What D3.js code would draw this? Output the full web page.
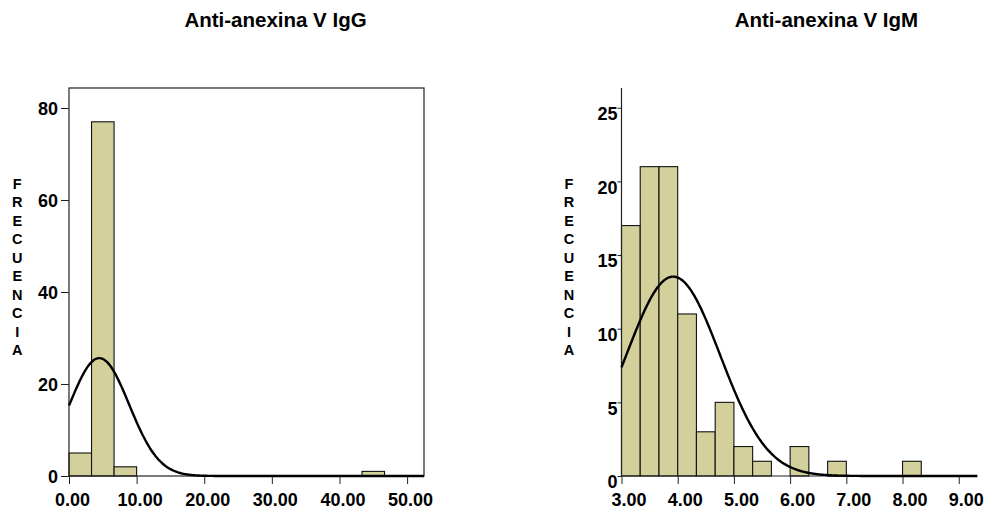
<!DOCTYPE html>
<html><head><meta charset="utf-8">
<script src="https://cdn.jsdelivr.net/npm/d3@7"></script>
<style>
body{margin:0;background:#fff;}
text{font-family:"Liberation Sans",Arial,sans-serif;font-weight:bold;fill:#000;}
</style></head>
<body><svg id="c" width="988" height="511"></svg>
<script>
// ---- data ----
const titles = ["Anti-anexina V IgG", "Anti-anexina V IgM"];
const yLabel = "FRECUENCIA";

const iggBinLow  = [0, 3.333, 6.667, 43.333];
const iggBinHigh = [3.333, 6.667, 10, 46.667];
const iggCounts  = [5, 77, 2, 1];
const iggXTicks  = [0, 10, 20, 30, 40, 50];
const iggYTicks  = [0, 20, 40, 60, 80];
const iggN = 85, iggMean = 4.48, iggSD = 4.41, iggBinWidth = 10/3;

const igmBinLow  = [3.000, 3.333, 3.667, 4.000, 4.333, 4.667, 5.000, 5.333, 6.000, 6.667, 8.000];
const igmBinHigh = [3.333, 3.667, 4.000, 4.333, 4.667, 5.000, 5.333, 5.667, 6.333, 7.000, 8.333];
const igmCounts  = [17, 21, 21, 11, 3, 5, 2, 1, 2, 1, 1];
const igmXTicks  = [3, 4, 5, 6, 7, 8, 9];
const igmYTicks  = [0, 5, 10, 15, 20, 25];
const igmN = 85, igmMean = 3.92, igmSD = 0.835, igmBinWidth = 1/3;

const svg = d3.select("#c");
const fill = "#d4d09b";

function normalCurve(x, n, mean, sd, bw) {
  return d3.range(x.domain()[0], x.domain()[1] + 1e-9, (x.domain()[1]-x.domain()[0])/300)
    .map(v => [v, n*bw/(sd*Math.sqrt(2*Math.PI))*Math.exp(-((v-mean)**2)/(2*sd*sd))]);
}

function drawChart(cfg) {
  const g = svg.append("g");
  const x = d3.scaleLinear().domain(cfg.xDom).range([cfg.left, cfg.right]);
  const y = d3.scaleLinear().domain(cfg.yDom).range([476, 88]);

  // title
  g.append("text").attr("x", cfg.titleX).attr("y", 26.5).attr("text-anchor", "middle")
    .style("font-size", "20.5px").text(cfg.title);

  // y label stacked letters
  g.append("g").selectAll("text").data(yLabel.split("")).join("text")
    .attr("x", cfg.labelX).attr("y", (d, i) => 188.5 + i*18.5)
    .attr("text-anchor", "middle").style("font-size", "14.5px").text(d => d);

  // bars
  g.append("g").selectAll("rect").data(cfg.counts).join("rect")
    .attr("x", (d, i) => x(cfg.low[i]))
    .attr("width", (d, i) => x(cfg.high[i]) - x(cfg.low[i]))
    .attr("y", d => y(d)).attr("height", d => y(0) - y(d))
    .attr("fill", fill).attr("stroke", "#111").attr("stroke-width", 1.1);

  // frame / axis lines
  if (cfg.frame) {
    g.append("rect").attr("x", cfg.left).attr("y", 88)
      .attr("width", cfg.right - cfg.left).attr("height", 476 - 88)
      .attr("fill", "none").attr("stroke", "#222").attr("stroke-width", 1.2);
  } else {
    g.append("line").attr("x1", cfg.left).attr("x2", cfg.left).attr("y1", 88).attr("y2", 476)
      .attr("stroke", "#222").attr("stroke-width", 1.2);
    g.append("line").attr("x1", cfg.left).attr("x2", cfg.right).attr("y1", 476).attr("y2", 476)
      .attr("stroke", "#222").attr("stroke-width", 1.2);
  }

  // axes
  const ya = g.append("g").attr("transform", `translate(${cfg.left},0)`)
    .call(d3.axisLeft(y).tickValues(cfg.yTicks).tickFormat(d3.format("d"))
      .tickSize(cfg.yTickSize).tickPadding(cfg.yPad));
  ya.select(".domain").remove();
  ya.selectAll("line").attr("stroke", "#222");
  ya.selectAll("text").style("font-size", "18px").attr("dy", cfg.yDy).attr("fill", "#000");

  const xa = g.append("g").attr("transform", "translate(0,476)")
    .call(d3.axisBottom(x).tickValues(cfg.xTicks).tickFormat(d3.format(".2f"))
      .tickSize(8).tickPadding(9));
  xa.select(".domain").remove();
  xa.selectAll("line").attr("stroke", "#222");
  xa.selectAll("text").style("font-size", "18px").attr("dx", cfg.xDx).attr("fill", "#000");

  // normal curve
  const pts = normalCurve(x, cfg.n, cfg.mean, cfg.sd, cfg.bw);
  g.append("path").datum(pts)
    .attr("d", d3.line().x(d => x(d[0])).y(d => y(d[1])).curve(d3.curveBasis))
    .attr("fill", "none").attr("stroke", "#000").attr("stroke-width", 2.4);
}

drawChart({
  title: titles[0], titleX: 275.5, labelX: 17.3,
  xDom: [0, 52.5], left: 69, right: 424, yDom: [0, 84.35],
  low: iggBinLow, high: iggBinHigh, counts: iggCounts,
  xTicks: iggXTicks, yTicks: iggYTicks, frame: true,
  yTickSize: 8, yPad: 3, yDy: "0.35em", xDx: 3,
  n: iggN, mean: iggMean, sd: iggSD, bw: iggBinWidth
});
drawChart({
  title: titles[1], titleX: 826.4, labelX: 569,
  xDom: [3, 9.33], left: 621.5, right: 977.3, yDom: [0, 26.34],
  low: igmBinLow, high: igmBinHigh, counts: igmCounts,
  xTicks: igmXTicks, yTicks: igmYTicks, frame: false,
  yTickSize: 4, yPad: 0, yDy: "0.65em", xDx: 7,
  n: igmN, mean: igmMean, sd: igmSD, bw: igmBinWidth
});
</script></body></html>
